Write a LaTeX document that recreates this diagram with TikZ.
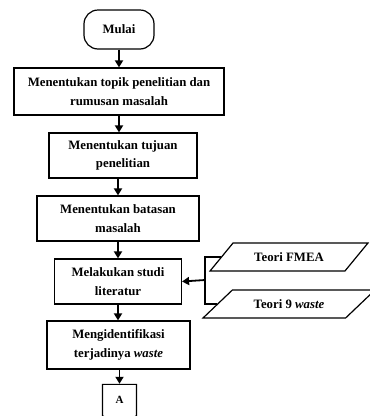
\documentclass[tikz,border=0pt]{standalone}
\usepackage{fontspec}
\setmainfont{Liberation Serif}
\usetikzlibrary{arrows.meta,shapes.geometric,shapes.symbols}
\tikzset{
  flowbox/.style={draw, line width=1.2pt, rectangle, align=center, inner sep=2pt},
  inputbox/.style={draw, line width=1.2pt, trapezium, trapezium stretches=true,
    trapezium left angle=45, trapezium right angle=135, minimum height=28pt},
  txt/.style={font=\bfseries\fontsize{12.8}{18.5}\selectfont},
}
\begin{document}
\begin{tikzpicture}[x=1pt,y=-1pt,>={Triangle[length=7pt,width=8pt]},line width=1.8pt]
\useasboundingbox (0,0) rectangle (370,416);
\node(Mulai)[draw, line width=1.2pt, rounded corners=14pt, minimum width=70pt, minimum height=39pt, txt] at (119,29.5) {Mulai};

\node(Topik)[flowbox, txt, minimum width=210pt, minimum height=47pt] at (119,91.5) {Menentukan topik penelitian dan\\rumusan masalah};
\node(Tujuan)[flowbox, txt, minimum width=148pt, minimum height=45pt] at (123,155.5) {Menentukan tujuan\\penelitian};
\node(Batasan)[flowbox, txt, minimum width=162pt, minimum height=45pt] at (118,218.5) {Menentukan batasan\\masalah};
\node(Studi)[flowbox, txt, minimum width=127pt, minimum height=45pt] at (118,281.5) {Melakukan studi\\literatur};
\node(Waste)[flowbox, txt, minimum width=143pt, minimum height=48pt] at (118.5,345) {Mengidentifikasi\\terjadinya \textit{waste}};

\node(A)[draw, line width=1.2pt, signal, signal to=south, signal pointer angle=110, minimum width=34pt, minimum height=34pt, inner sep=0pt, font=\bfseries\fontsize{11}{12}\selectfont] at (119.5,400) {A};

\node(FMEA)[inputbox, txt, minimum width=158pt] at (289,257) {Teori FMEA};
\node(Sembilan)[inputbox, txt, minimum width=172pt, trapezium left angle=38, trapezium right angle=142] at (289,304) {Teori 9 \textit{waste}};
\coordinate(Cabang) at (205,280);

\draw (Mulai.south) edge[->] (Topik.north);
\draw (Topik.south) edge[->] (Topik.south |- Tujuan.north);
\draw (Tujuan.south -| Batasan.north) edge[->] (Batasan.north);
\draw (Batasan.south) edge[->] (Studi.north);
\draw (Studi.south) edge[->] (Studi.south |- Waste.north);
\draw (Waste.south -| A.north) edge[->] (A.north);

\draw (FMEA.west) -| (Cabang) |- (Sembilan.west);
\draw (Cabang) edge[->] (Studi.east);
\end{tikzpicture}
\end{document}
